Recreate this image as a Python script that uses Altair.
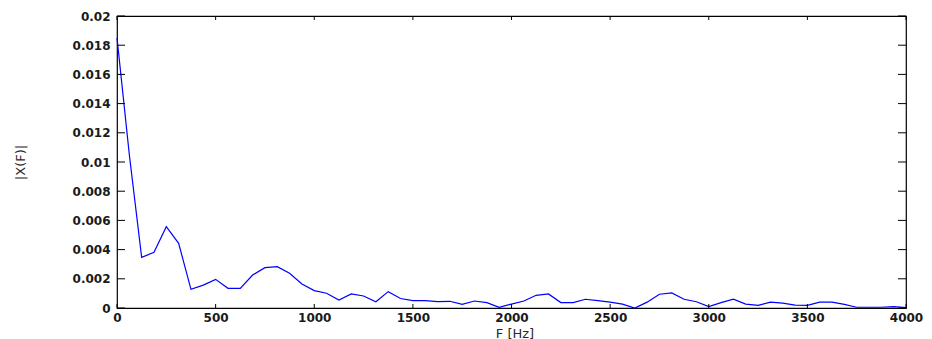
import altair as alt
import pandas as pd

# Frequency bins (Hz) and spectrum magnitude |X(F)|
freqs = [0, 62.5, 125, 187.5, 250, 312.5, 375, 437.5, 500, 562.5, 625, 687.5,
         750, 812.5, 875, 937.5, 1000, 1062.5, 1125, 1187.5, 1250, 1312.5,
         1375, 1437.5, 1500, 1562.5, 1625, 1687.5, 1750, 1812.5, 1875, 1937.5,
         2000, 2062.5, 2125, 2187.5, 2250, 2312.5, 2375, 2437.5, 2500, 2562.5,
         2625, 2687.5, 2750, 2812.5, 2875, 2937.5, 3000, 3062.5, 3125, 3187.5,
         3250, 3312.5, 3375, 3437.5, 3500, 3562.5, 3625, 3687.5, 3750, 3812.5,
         3875, 3937.5, 4000]
mags = [0.0185, 0.0105, 0.00347, 0.00381, 0.00557, 0.00443, 0.00128, 0.00157,
        0.00196, 0.00135, 0.00135, 0.00226, 0.00276, 0.00283, 0.00238, 0.00164,
        0.00119, 0.00101, 0.00055, 0.00096, 0.00082, 0.00043, 0.00112, 0.00065,
        0.0005, 0.0005, 0.00043, 0.00046, 0.00025, 0.00048, 0.00037, 0.00005,
        0.00027, 0.00048, 0.00087, 0.00096, 0.00037, 0.00037, 0.0006, 0.0005,
        0.0004, 0.00027, 0.0, 0.0004, 0.00094, 0.00103, 0.0006, 0.00043,
        0.0001, 0.00037, 0.0006, 0.00027, 0.00018, 0.0004, 0.00034, 0.0002,
        0.00018, 0.0004, 0.0004, 0.00025, 0.00005, 0.00005, 0.00005, 0.0001,
        0.00002]

x_ticks = [0, 500, 1000, 1500, 2000, 2500, 3000, 3500, 4000]
y_ticks = [0, 0.002, 0.004, 0.006, 0.008, 0.01, 0.012, 0.014, 0.016, 0.018, 0.02]

x_title = "F [Hz]"
y_title = "|X(F)|"

W, H = 789, 292
XT, YT = 4, 8  # inward tick lengths

df = pd.DataFrame({"F": freqs, "X": mags})
xt = pd.DataFrame({"F": x_ticks})
yt = pd.DataFrame({"X": y_ticks})

xscale = alt.Scale(domain=[0, 4000], nice=False, zero=False)
yscale = alt.Scale(domain=[0, 0.02], nice=False)

lab = dict(labelFont="DejaVu Sans", labelFontWeight="bold", labelFontSize=12,
           labelColor="#1a1a1a", ticks=False, domain=False, grid=False,
           labelFlush=False, labelOverlap=False,
           titleFont="DejaVu Sans", titleFontSize=13, titleFontWeight="normal",
           titleColor="#2a2a2a")

xaxis = alt.Axis(values=x_ticks, format="d", labelPadding=4,
                 title=x_title, titleX=W / 2 + 3, titleY=25,
                 titleBaseline="middle", **lab)
yaxis = alt.Axis(values=y_ticks, format="~g", labelPadding=7,
                 title=y_title, titleX=-97, titleY=H / 2,
                 titleAngle=-90, titleBaseline="middle",
                 titleAlign="center", **lab)

line = alt.Chart(df).mark_line(color="#0000ff", strokeWidth=1.2).encode(
    x=alt.X("F:Q", scale=xscale, axis=xaxis),
    y=alt.Y("X:Q", scale=yscale, axis=yaxis),
)

tick_style = dict(color="black", strokeWidth=1)
xb = alt.Chart(xt).mark_rule(**tick_style).encode(
    x=alt.X("F:Q", scale=xscale, axis=xaxis), y=alt.value(H - XT), y2=alt.value(H))
xtop = alt.Chart(xt).mark_rule(**tick_style).encode(
    x=alt.X("F:Q", scale=xscale, axis=xaxis), y=alt.value(0), y2=alt.value(XT))
yl = alt.Chart(yt).mark_rule(**tick_style).encode(
    y=alt.Y("X:Q", scale=yscale, axis=yaxis), x=alt.value(0), x2=alt.value(YT))
yr = alt.Chart(yt).mark_rule(**tick_style).encode(
    y=alt.Y("X:Q", scale=yscale, axis=yaxis), x=alt.value(W - YT), x2=alt.value(W))

chart = alt.layer(line, xb, xtop, yl, yr).properties(
    width=W, height=H,
    autosize=alt.AutoSizeParams(type="none"),
    padding={"left": 117, "top": 16, "right": 26, "bottom": 31},
    background="white",
).configure_view(stroke="black", strokeWidth=1.2)

chart.save("out.html", embed_options={"renderer": "svg", "actions": False})
